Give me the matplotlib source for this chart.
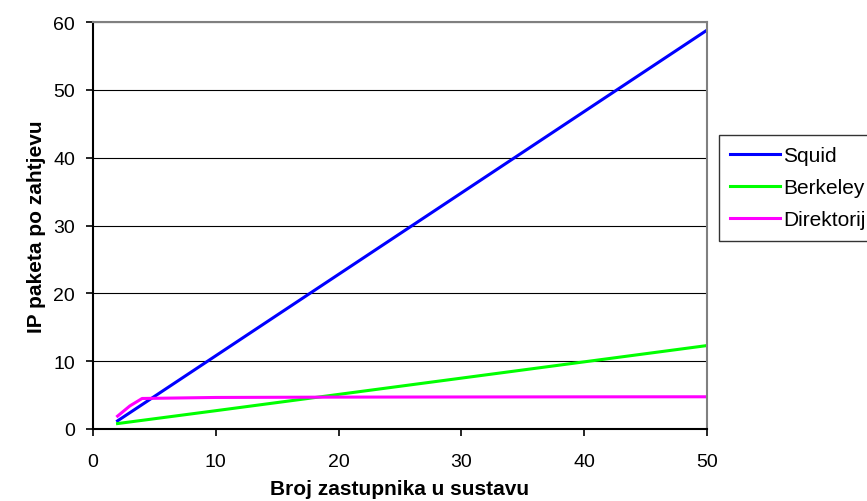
import matplotlib.pyplot as plt

plt.rcParams['font.family'] = ['Liberation Sans', 'DejaVu Sans']

# data
x_squid = [2, 10, 20, 30, 40, 50]
squid = [1.2, 10.8, 22.8, 34.8, 46.8, 58.8]
x_berkeley = [2, 10, 20, 30, 40, 50]
berkeley = [0.8, 2.7, 5.1, 7.5, 9.9, 12.3]
x_dir = [2, 3, 4, 10, 20, 30, 40, 50]
direktorij = [1.9, 3.4, 4.5, 4.65, 4.7, 4.72, 4.74, 4.75]

fig = plt.figure(figsize=(8.67, 5.02), dpi=100)
ax = fig.add_axes([93 / 867, 72 / 502, 614 / 867, 407 / 502])

ax.plot(x_squid, squid, color='#0000ff', lw=2.2, label='Squid')
ax.plot(x_berkeley, berkeley, color='#00ff00', lw=2.2, label='Berkeley')
ax.plot(x_dir, direktorij, color='#ff00ff', lw=2.2, label='Direktorij')

ax.set_xlim(0, 50)
ax.set_ylim(0, 60)
ax.set_xticks(range(0, 51, 10))
ax.set_yticks(range(0, 61, 10))
ax.tick_params(labelsize=14, direction='out', length=5, width=1.2, color='black')
ax.tick_params(axis='x', pad=12)
ax.tick_params(axis='y', pad=8)

# horizontal grid
ax.grid(axis='y', color='black', lw=0.8)
ax.set_axisbelow(True)

ax.spines['left'].set_color('black')
ax.spines['bottom'].set_color('black')
ax.spines['top'].set_color('#808080')
ax.spines['right'].set_color('#808080')
for s in ax.spines.values():
    s.set_linewidth(1.5)

ax.set_xlabel('Broj zastupnika u sustavu', fontsize=15, fontweight='bold', labelpad=7)
ax.set_ylabel('IP paketa po zahtjevu', fontsize=15, fontweight='bold', labelpad=5)

# legend sits right of the plot, as wide as the remaining space
leg = fig.legend(loc='upper left', bbox_to_anchor=(719 / 867, 1 - 136 / 502),
                 fontsize=15, frameon=True, fancybox=False, handlelength=2.4,
                 handletextpad=0.12, borderpad=0.55, labelspacing=0.62,
                 borderaxespad=0)
leg.get_frame().set_edgecolor('black')
leg.get_frame().set_linewidth(1.0)

fig.savefig('out.png', dpi=100)
